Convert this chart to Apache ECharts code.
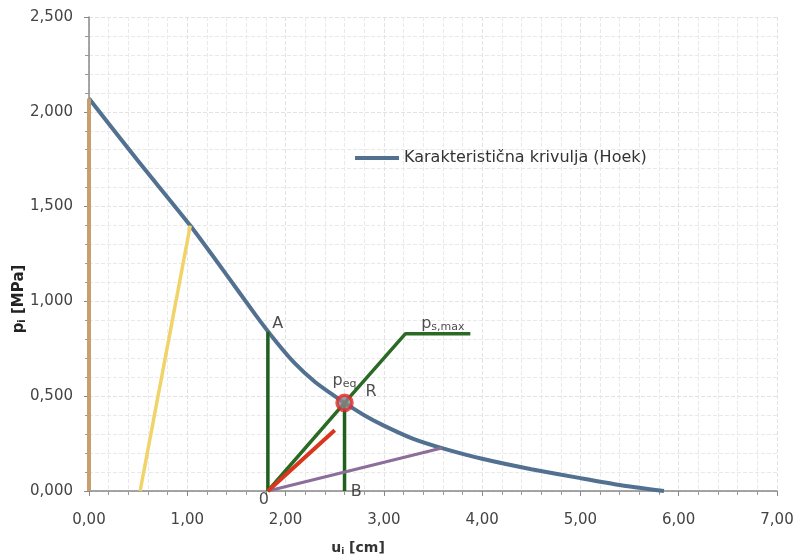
<!DOCTYPE html>
<html><head><meta charset="utf-8">
<script src="https://cdn.jsdelivr.net/npm/echarts@6/dist/echarts.min.js"></script>
<style>html,body{margin:0;padding:0;background:#fff}#c{width:798px;height:560px}</style>
</head><body><div id="c"></div>
<script>
// Characteristic curve (Hoek): [u (cm), p (MPa)]
const curveHoek = [[0,2.07],[0.5,1.74],[1.03,1.40],[1.4,1.14],[1.7,0.925],[1.9,0.79],[2.1,0.67],[2.3,0.575],[2.5,0.50],[2.6,0.465],[2.8,0.40],[3.0,0.345],[3.3,0.275],[3.6,0.225],[4.0,0.17],[4.5,0.115],[5.0,0.068],[5.4,0.032],[5.85,0]];
const tanLine = [[0,0],[0,2.07]];
const yellowLine = [[0.52,0],[1.03,1.40]];
const lineA = [[1.82,0],[1.82,0.84]];
const lineB = [[2.60,0],[2.60,0.465]];
const supportLine = [[1.82,0],[2.60,0.465],[3.22,0.83],[3.88,0.83]];
const redLine = [[1.82,0],[2.50,0.32]];
const purpleLine = [[1.82,0],[3.59,0.227]];
const pointR = [[2.60,0.465]];
const annotations = [
  [1.92,0.88,'{n|A}'],
  [2.87,0.525,'{n|R}'],
  [2.60,0.58,'{p|p}{s|eq}'],
  [3.60,0.88,'{p|p}{s|s,max}'],
  [2.72,-0.005,'{n|B}'],
  [1.78,-0.045,'{n|0}']
];
const xTicks = {min:0, max:7, interval:1};
const yTicks = {min:0, max:2.5, interval:0.5};
const legendName = 'Karakteristična krivulja (Hoek)';

const font = 'DejaVu Sans';
const chart = echarts.init(document.getElementById('c'), null, {renderer:'canvas'});
function ln(name, data, color, width, z){
  return {name, type:'line', data, symbol:'none', lineStyle:{color, width}, itemStyle:{color}, z:z||2, silent:true, animation:false};
}
chart.setOption({
  animation:false,
  backgroundColor:'#fff',
  grid:{left:89, right:21, top:17, bottom:69, containLabel:false, outerBoundsMode:'none'},
  legend:{show:true, data:[legendName], left:350, top:145, itemWidth:44, itemHeight:4, itemGap:4,
    textStyle:{fontFamily:font, fontSize:16, color:'#333'}, icon:'rect'},
  xAxis:{type:'value', min:xTicks.min, max:xTicks.max, interval:xTicks.interval,
    name:'{b|u}{s|i}{b| [cm]}', nameLocation:'middle', nameGap:50,
    nameTextStyle:{padding:[0,150,0,0],rich:{b:{fontFamily:font,fontSize:14,color:'#333',fontWeight:'bold'},s:{fontFamily:font,fontSize:9,color:'#333',fontWeight:'bold',padding:[6,0,0,0]}}},
    axisLine:{lineStyle:{color:'#888',width:1.5}},
    axisTick:{show:true,length:5,lineStyle:{color:'#888'}},
    minorTick:{show:true,splitNumber:5,length:4,lineStyle:{color:'#999'}},
    axisLabel:{fontFamily:font,fontSize:15,color:'#444',margin:22,formatter:v=>v.toFixed(2).replace('.',',')},
    splitLine:{show:true,lineStyle:{color:'#e2e2e2',width:1,type:'dashed'}},
    minorSplitLine:{show:true,lineStyle:{color:'#e9e9e9',width:1,type:'dashed'}}
  },
  yAxis:{type:'value', min:yTicks.min, max:yTicks.max, interval:yTicks.interval,
    name:'{b|p}{s|i}{b| [MPa]}', nameLocation:'middle', nameGap:62, nameRotate:90, nameMoveOverlap:false,
    nameTextStyle:{padding:[0,90,0,0],rich:{b:{fontFamily:font,fontSize:15,color:'#222',fontWeight:'bold'},s:{fontFamily:font,fontSize:10,color:'#222',fontWeight:'bold',padding:[6,0,0,0]}}},
    axisLine:{show:true,lineStyle:{color:'#888',width:1.5}},
    axisTick:{show:true,length:5,lineStyle:{color:'#888'}},
    minorTick:{show:true,splitNumber:5,length:4,lineStyle:{color:'#999'}},
    axisLabel:{fontFamily:font,fontSize:15,color:'#444',margin:16,formatter:v=>v.toFixed(3).replace('.',',')},
    splitLine:{show:true,lineStyle:{color:'#e2e2e2',width:1,type:'dashed'}},
    minorSplitLine:{show:true,lineStyle:{color:'#e9e9e9',width:1,type:'dashed'}}
  },
  series:[
    ln('tan', tanLine, '#c79e6e', 4, 3),
    ln('yellow', yellowLine, '#f0d46a', 3.5, 3),
    ln('A', lineA, '#1f5f1f', 3.5, 3),
    ln('B', lineB, '#1f5f1f', 3.5, 3),
    ln('support', supportLine, '#2a6a24', 3.5, 4),
    ln('red', redLine, '#d9361e', 4, 4),
    ln('purple', purpleLine, '#8c6e9a', 3, 3),
    Object.assign(ln(legendName, curveHoek, '#52708f', 4, 2), {smooth:0.2}),
    {name:'R', type:'scatter', data:pointR, symbol:'circle', symbolSize:15, z:6, silent:true,
      itemStyle:{color:'#8f8488', borderColor:'#e02a2a', borderWidth:3.5}},
    {name:'labels', type:'scatter', clip:false, data:annotations.map(a=>[a[0],a[1],a[2]]), symbolSize:0, z:7, silent:true,
      label:{show:true, position:'inside', formatter:p=>p.data[2],
        rich:{n:{fontFamily:font,fontSize:16,color:'#222'},p:{fontFamily:font,fontSize:16,color:'#222'},s:{fontFamily:font,fontSize:11,color:'#222',padding:[6,0,0,0]}}}}
  ]
});
</script></body></html>
